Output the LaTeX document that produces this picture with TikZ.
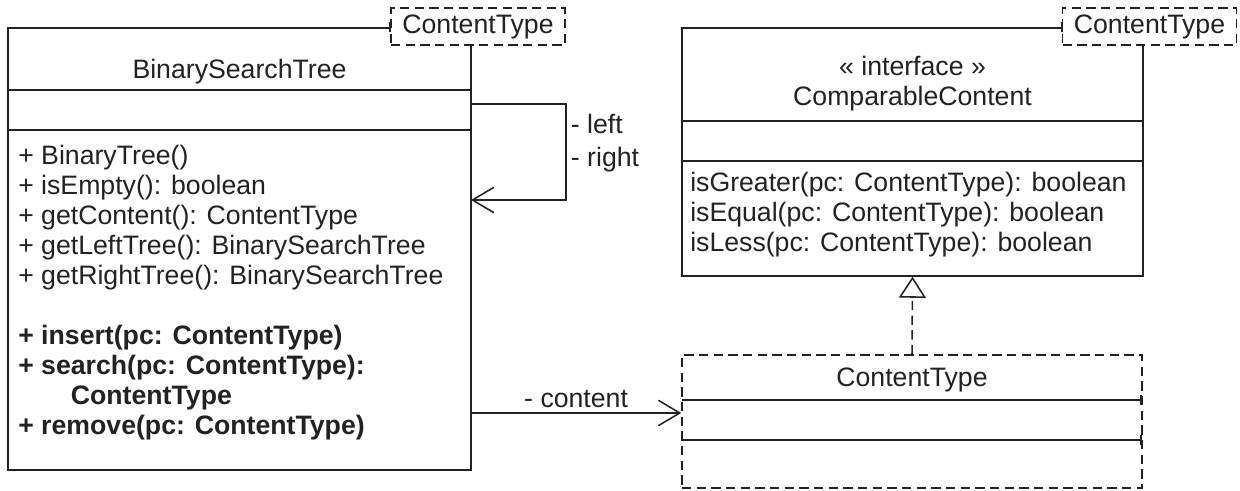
\documentclass[tikz,border=0pt]{standalone}
\usepackage{fontspec}
\setmainfont{Liberation Sans}
\usepackage{tikz}
\usetikzlibrary{arrows.meta,fit}
\definecolor{umlink}{HTML}{222222}

\begin{document}
\begin{tikzpicture}[x=0.75pt, y=-0.75pt,
  every node/.style={font=\fontsize{20}{22.5}\selectfont, text=umlink},
  classbox/.style={draw=umlink, line width=1.15pt, inner sep=0pt},
  dashbox/.style={classbox, dash pattern=on 7pt off 4pt},
  tplbox/.style={dashbox, fill=white, minimum width=130.5pt, minimum height=27.75pt},
  sepline/.style={draw=umlink, line width=1.15pt},
  assoc/.style={sepline, -{Straight Barb[length=16pt, width=19pt]}},
  realize/.style={sepline, dash pattern=on 7pt off 4pt, -{Triangle[open, length=15.75pt, width=20.25pt]}}]
\useasboundingbox (0,0) rectangle (1240,491);

% class BinarySearchTree
\node[classbox, fit={(8,28) (471,470)}] (bst) {};
\draw[sepline] (8,90) -- (471,90);
\draw[sepline] (8,130) -- (471,130);
\node (bstname) at (239.5,72) {BinarySearchTree};
\node[anchor=north west, align=left, inner sep=0pt] (bstops) at (18,145) {%
+ BinaryTree()\\
+ isEmpty(): boolean\\
+ getContent(): ContentType\\
+ getLeftTree(): BinarySearchTree\\
+ getRightTree(): BinarySearchTree\\
\strut\\
\textbf{+ insert(pc: ContentType)}\\
\textbf{+ search(pc: ContentType):}\\
\textbf{\phantom{+ se}ContentType}\\
\textbf{+ remove(pc: ContentType)}};
\node[tplbox] (bsttpl) at (478,26.5) {ContentType};
\draw[sepline] (bst.north west -| bsttpl.west) ++(0,-5) -- ++(0,10);

% interface ComparableContent
\node[classbox, fit={(682,28) (1143,276)}] (cc) {};
\draw[sepline] (682,121) -- (1143,121);
\draw[sepline] (682,161) -- (1143,161);
\node[align=center] (ccname) at (912.5,84) {« interface »\\ComparableContent};
\node[anchor=north west, align=left, inner sep=0pt] (ccops) at (690,172) {%
isGreater(pc: ContentType): boolean\\
isEqual(pc: ContentType): boolean\\
isLess(pc: ContentType): boolean};
\node[tplbox] (cctpl) at (1149.5,26.5) {ContentType};
\draw[sepline] (cc.north west -| cctpl.west) ++(0,-5) -- ++(0,10);

% type parameter ContentType
\node[dashbox, fit={(682,355) (1142,488)}] (ct) {};
\draw[sepline, -{Bar[width=7pt]}] (682,400) -- (1142,400);
\draw[sepline, -{Bar[width=7pt]}] (682,440) -- (1142,440);
\node (ctname) at (912,380) {ContentType};

% connectors
\coordinate (selfout) at (471,104);
\coordinate (selfin) at (471,200);
\draw[assoc] (selfout) -- ++(95,0) |- (selfin);
\node[anchor=west, align=left, inner sep=2pt] (selflbl) at (568,143) {- left\\[2pt]- right};

\coordinate (cntout) at (471,413);
\draw[assoc] (cntout) -- (cntout -| ct.west) node[midway, above] (cntlbl) {- content};

\draw[realize] (ct.north) -- (cc.south);
%\draw[help lines] (0,0) grid[step=50] (1240,491);
\end{tikzpicture}
\end{document}
